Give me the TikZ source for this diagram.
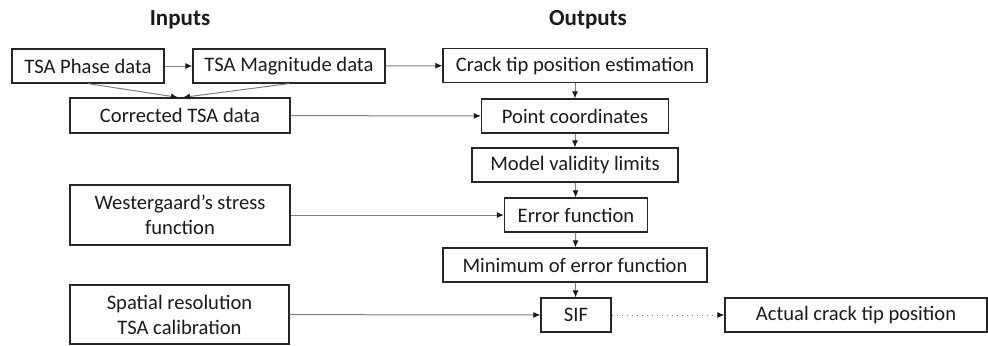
\documentclass[tikz,border=0pt]{standalone}
\usepackage{fontspec}
\setmainfont{Carlito}
\usepackage{tikz}
\usetikzlibrary{arrows.meta}
\definecolor{FontColor}{HTML}{1A1A1A}
\definecolor{BoxLine}{HTML}{262626}
\definecolor{ArrowLine}{HTML}{808080}
\newcommand\nodephase{TSA Phase data}
\newcommand\nodemag{TSA Magnitude data}
\newcommand\nodecorr{Corrected TSA data}
\newcommand\nodecrack{Crack tip position estimation}
\newcommand\nodepoint{Point coordinates}
\newcommand\nodemodel{Model validity limits}
\newcommand\nodewsf{Westergaard's stress\\function}
\newcommand\nodeerr{Error function}
\newcommand\nodemin{Minimum of error function}
\newcommand\nodespat{Spatial resolution\\TSA calibration}
\newcommand\nodesif{SIF}
\newcommand\nodeact{Actual crack tip position}
\tikzstyle{boxstyle} = [rectangle, draw=BoxLine, line width=0.6pt, inner sep=0pt, minimum height=17pt, align=center, text=FontColor, font=\fontsize{10.3}{12.5}\selectfont]
\tikzstyle{titlestyle} = [text=FontColor, font=\fontsize{11.5}{13}\selectfont\bfseries]
\tikzstyle{con} = [draw=ArrowLine, ->]
\tikzset{>={Latex[length=3.5pt,width=3pt,color=FontColor]}, every picture/.style={line width=0.5pt}}

\begin{document}
\begin{tikzpicture}[x=0.5pt, y=-0.5pt]
\useasboundingbox (0,0) rectangle (988,345);
\node[titlestyle] (inp) at (180, 20) {Inputs};
\node[titlestyle] (outp) at (588, 20) {Outputs};
\node[boxstyle, minimum width=76pt] (phase) at (88, 66) {\nodephase};
\node[boxstyle, minimum width=96pt] (mag) at (289, 66) {\nodemag};
\node[boxstyle, minimum width=110pt, minimum height=17.5pt] (corr) at (180, 115.5) {\nodecorr};
\node[boxstyle, minimum width=132pt] (crack) at (575, 65.5) {\nodecrack};
\node[boxstyle, minimum width=93.5pt] (point) at (575, 116) {\nodepoint};
\node[boxstyle, minimum width=103pt] (model) at (575, 165) {\nodemodel};
\node[boxstyle, minimum width=110pt, minimum height=30pt] (wsf) at (180, 215) {\nodewsf};
\node[boxstyle, minimum width=71.5pt] (err) at (576, 215) {\nodeerr};
\node[boxstyle, minimum width=132pt] (min) at (575, 265) {\nodemin};
\node[boxstyle, minimum width=109.5pt, minimum height=29.5pt] (spat) at (179.5, 314.5) {\nodespat};
\node[boxstyle, minimum width=35pt] (sif) at (576, 315) {\nodesif};
\node[boxstyle, minimum width=131pt] (act) at (856, 315) {\nodeact};
\draw [con] (phase) -- (mag);
\draw [con] (mag) -- (crack);
\draw [con] (phase.south) -- ([xshift=-1pt]corr.north);
\draw [con] (mag.south) -- ([xshift=1.5pt]corr.north);
\draw [con] (corr) -- (point);
\draw [con] (crack) -- (point);
\draw [con] (point) -- (model);
\draw [con] (model) -- (err);
\draw [con] (wsf) -- (err);
\draw [con] (err) -- (min);
\draw [con] (min) -- (sif);
\draw [con] (spat) -- (sif);
\draw [con, dotted] (sif) -- (act);
\end{tikzpicture}
\end{document}
